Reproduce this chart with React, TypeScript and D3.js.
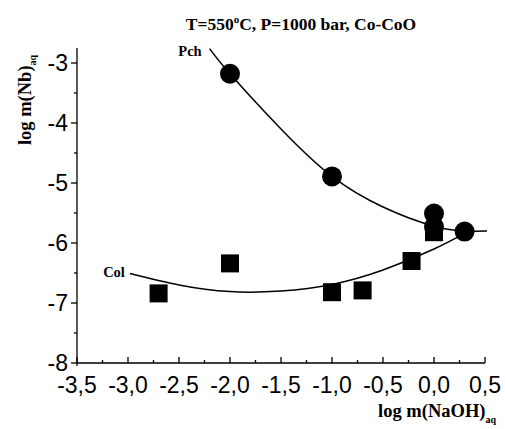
import React from 'react';
import * as d3 from 'd3';

// measured points
const pchX = [-2.0, -1.0, 0.0, 0.0, 0.3];
const pchY = [-3.18, -4.89, -5.51, -5.73, -5.81];
const colX = [-2.7, -2.0, -1.0, -0.7, -0.22, 0.0];
const colY = [-6.84, -6.34, -6.82, -6.79, -6.3, -5.82];

// fitted curves
const pchFitX = [-2.2, -2.0, -1.5, -1.0, -0.5, 0.0, 0.3, 0.52];
const pchFitY = [-2.76, -3.18, -4.1, -4.89, -5.4, -5.72, -5.8, -5.8];
const colFitX = [-2.98, -2.5, -2.0, -1.5, -1.0, -0.5, 0.0, 0.3];
const colFitY = [-6.51, -6.7, -6.81, -6.8, -6.69, -6.45, -6.1, -5.84];

const xTicks = [-3.5, -3.0, -2.5, -2.0, -1.5, -1.0, -0.5, 0.0, 0.5];
const yTicks = [-3, -4, -5, -6, -7, -8];

const W = 505;
const H = 429;

const App = () => {
  const x = d3.scaleLinear().domain([-3.5, 0.5]).range([77, 485]);
  const y = d3.scaleLinear().domain([-8, -2.75]).range([363, 48]);

  const line = d3
    .line<[number, number]>()
    .x(d => x(d[0]))
    .y(d => y(d[1]))
    .curve(d3.curveNatural);

  const pchFit = pchFitX.map((v, i) => [v, pchFitY[i]] as [number, number]);
  const colFit = colFitX.map((v, i) => [v, colFitY[i]] as [number, number]);

  const xMinor = xTicks.slice(0, -1).map(v => v + 0.25);
  const yMinor = yTicks.slice(0, -1).map(v => v - 0.5);
  const fmt = (v: number) => v.toFixed(1).replace('.', ',');
  const sans = 'Liberation Sans, Arial, sans-serif';
  const serif = 'Liberation Serif, Times New Roman, serif';

  return (
    <svg width={W} height={H} style={{ position: 'absolute', left: 0, top: 0, background: '#fff' }}>
      {/* axes */}
      <line x1={x(-3.5)} x2={x(0.5)} y1={y(-8)} y2={y(-8)} stroke="#000" strokeWidth={1.3} />
      <line x1={x(-3.5)} x2={x(-3.5)} y1={y(-2.75)} y2={y(-8) + 3} stroke="#000" strokeWidth={1.3} />
      {xTicks.map(t => (
        <g key={'x' + t}>
          <line x1={x(t)} x2={x(t)} y1={y(-8)} y2={y(-8) - 6} stroke="#000" strokeWidth={1.3} />
          <text x={x(t)} y={393} textAnchor="middle" fontFamily={sans} fontSize={23}>
            {fmt(t)}
          </text>
        </g>
      ))}
      {xMinor.map(t => (
        <line key={'xm' + t} x1={x(t)} x2={x(t)} y1={y(-8)} y2={y(-8) - 3} stroke="#000" strokeWidth={1.3} />
      ))}
      {yTicks.map(t => (
        <g key={'y' + t}>
          <line x1={x(-3.5)} x2={x(-3.5) - 6} y1={y(t)} y2={y(t)} stroke="#000" strokeWidth={1.3} />
          <text x={68} y={y(t)} dy="0.36em" textAnchor="end" fontFamily={sans} fontSize={23}>
            {String(t)}
          </text>
        </g>
      ))}
      {yMinor.map(t => (
        <line key={'ym' + t} x1={x(-3.5)} x2={x(-3.5) - 3} y1={y(t)} y2={y(t)} stroke="#000" strokeWidth={1.3} />
      ))}

      {/* fit lines */}
      <path d={line(pchFit) || ''} fill="none" stroke="#000" strokeWidth={1.5} />
      <path d={line(colFit) || ''} fill="none" stroke="#000" strokeWidth={1.5} />

      {/* markers */}
      {colX.map((v, i) => (
        <rect key={'c' + i} x={x(v) - 9} y={y(colY[i]) - 9} width={18} height={18} fill="#000" />
      ))}
      {pchX.map((v, i) => (
        <circle key={'p' + i} cx={x(v)} cy={y(pchY[i])} r={10} fill="#000" />
      ))}

      {/* labels */}
      <text x={190} y={56} textAnchor="middle" fontFamily={serif} fontWeight="bold" fontSize={14.5}>
        Pch
      </text>
      <text x={114} y={277} textAnchor="middle" fontFamily={serif} fontWeight="bold" fontSize={14.5}>
        Col
      </text>

      <text x={301} y={30} textAnchor="middle" fontFamily={serif} fontWeight="bold" fontSize={17.5}>
        T=550<tspan fontSize={11} dy={-7}>o</tspan>
        <tspan dy={7}>C, P=1000 bar, Co-CoO</tspan>
      </text>

      <text
        transform="translate(31,100) rotate(-90)"
        textAnchor="middle"
        fontFamily={serif}
        fontWeight="bold"
        fontSize={18.5}
      >
        log m(Nb)<tspan fontSize={10} dy={5}>aq</tspan>
      </text>

      <text x={496} y={417} textAnchor="end" fontFamily={serif} fontWeight="bold" fontSize={18.5}>
        log m(NaOH)<tspan fontSize={10} dy={6}>aq</tspan>
      </text>
    </svg>
  );
};

export default App;
